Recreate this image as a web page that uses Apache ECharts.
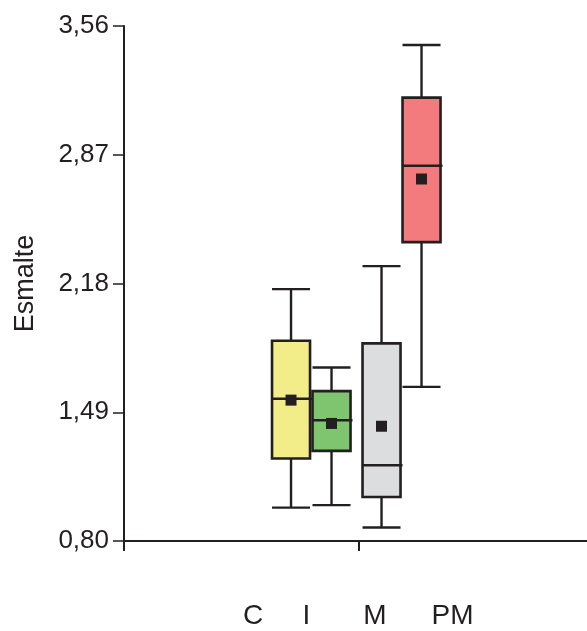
<!DOCTYPE html>
<html><head><meta charset="utf-8">
<script src="https://cdn.jsdelivr.net/npm/echarts@6/dist/echarts.min.js"></script>
<style>html,body{margin:0;padding:0;background:#fff}#c{width:587px;height:631px}</style>
</head><body><div id="c"></div>
<script>
// ---- data ----
const categories = ['C', 'I', 'M', 'PM'];
const whiskerLow = [0.979, 0.992, 0.872, 1.626];
const q1 = [1.242, 1.283, 1.036, 2.402];
const median = [1.562, 1.447, 1.206, 2.811];
const q3 = [1.873, 1.603, 1.859, 3.176];
const whiskerHigh = [2.150, 1.730, 2.273, 3.458];
const mean = [1.555, 1.430, 1.415, 2.740];
const yTicks = [0.80, 1.49, 2.18, 2.87, 3.56];
const yAxisName = 'Esmalte';

// ---- style / layout ----
const boxColors = ['#f2ed88', '#7fc46f', '#dcdddf', '#f47b7d'];
const ink = '#231f20';
const groupX = 1;
const boxOffsetPx = [-68, -27.5, 22.5, 62.5];
const boxWidthPx = 38;
const labelX = [253, 306.5, 375, 452.5];
const FONT = '"Liberation Sans", Arial, sans-serif';

const seriesData = categories.map((c, i) => [groupX, whiskerLow[i], q1[i], median[i], q3[i], whiskerHigh[i], mean[i]]);

function renderItem(params, api) {
  const i = params.dataIndex;
  const gx = api.value(0);
  const cx = api.coord([gx, api.value(1)])[0] + boxOffsetPx[i];
  const y = k => api.coord([gx, api.value(k)])[1];
  const yLow = y(1), yQ1 = y(2), yMed = y(3), yQ3 = y(4), yHigh = y(5), yMean = y(6);
  const hw = boxWidthPx / 2;
  const ls = { stroke: ink, lineWidth: 2.4, fill: null };
  return {
    type: 'group',
    children: [
      { type: 'line', shape: { x1: cx, y1: yHigh, x2: cx, y2: yQ3 }, style: ls },
      { type: 'line', shape: { x1: cx, y1: yQ1, x2: cx, y2: yLow }, style: ls },
      { type: 'line', shape: { x1: cx - hw, y1: yHigh, x2: cx + hw, y2: yHigh }, style: ls },
      { type: 'line', shape: { x1: cx - hw, y1: yLow, x2: cx + hw, y2: yLow }, style: ls },
      { type: 'rect', shape: { x: cx - hw, y: yQ3, width: boxWidthPx, height: yQ1 - yQ3 },
        style: { fill: boxColors[i], stroke: ink, lineWidth: 2.6 } },
      { type: 'line', shape: { x1: cx - hw, y1: yMed, x2: cx + hw + 2, y2: yMed }, style: ls },
      { type: 'rect', shape: { x: cx - 5.5, y: yMean - 5.5, width: 11, height: 11 },
        style: { fill: ink, stroke: null } }
    ]
  };
}

const chart = echarts.init(document.getElementById('c'), null, { renderer: 'canvas' });
chart.setOption({
  animation: false,
  backgroundColor: '#ffffff',
  grid: { left: 124, top: 26, right: 0, height: 515, containLabel: false },
  xAxis: {
    type: 'value', min: 0, max: 1.97, interval: 1,
    axisLine: { show: true, onZero: false, lineStyle: { color: ink, width: 2 } },
    axisTick: { show: true, length: 10, customValues: [0, 1], lineStyle: { color: ink, width: 2 } },
    axisLabel: { show: false },
    splitLine: { show: false }
  },
  yAxis: {
    type: 'value', min: yTicks[0], max: yTicks[yTicks.length - 1],
    name: yAxisName, nameLocation: 'middle', nameGap: 85,
    nameTextStyle: { fontFamily: FONT, fontSize: 27, color: ink },
    axisLine: { show: true, onZero: false, lineStyle: { color: ink, width: 2 } },
    axisTick: { show: true, length: 11, customValues: yTicks, lineStyle: { color: ink, width: 1.5 } },
    axisLabel: {
      customValues: yTicks, margin: 15,
      formatter: v => v.toFixed(2).replace('.', ','),
      fontFamily: FONT, fontSize: 26, color: ink
    },
    splitLine: { show: false }
  },
  graphic: categories.map((c, i) => ({
    type: 'text', x: labelX[i], y: 616,
    style: { text: c, font: '28px ' + FONT, fill: ink, align: 'center', verticalAlign: 'middle',
             textAlign: 'center', textVerticalAlign: 'middle' }
  })),
  series: [{
    type: 'custom',
    renderItem: renderItem,
    encode: { x: 0, y: [1, 2, 3, 4, 5, 6] },
    data: seriesData,
    clip: false
  }]
});
</script>
</body></html>
